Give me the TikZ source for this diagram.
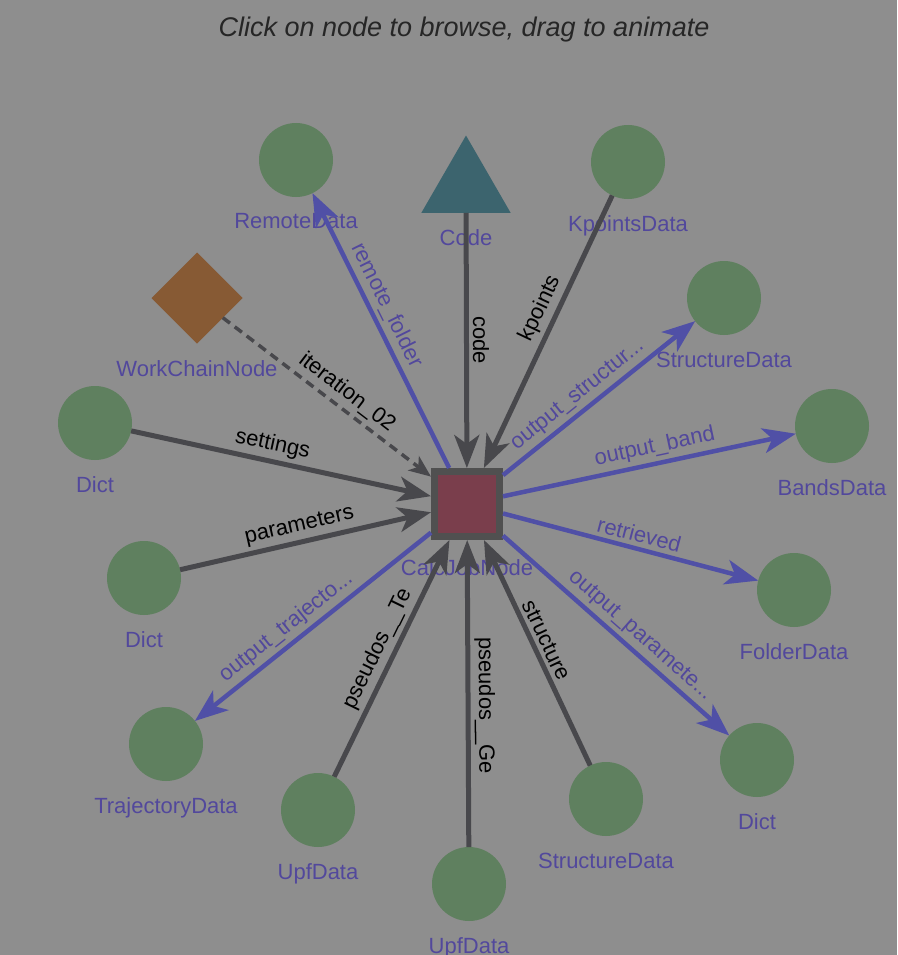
\documentclass[tikz,border=0pt]{standalone}
\usepackage{fontspec}
\setmainfont{Liberation Sans}
\usetikzlibrary{arrows.meta,shapes.geometric}

\definecolor{canvas}{HTML}{8E8E8E}
\definecolor{datagreen}{HTML}{5F805F}
\definecolor{calcred}{HTML}{7A3E4C}
\definecolor{calcrim}{HTML}{505050}
\definecolor{codeteal}{HTML}{3C646E}
\definecolor{wfbrown}{HTML}{875A34}
\definecolor{namecol}{HTML}{52489C}
\definecolor{linkgray}{HTML}{48484C}
\definecolor{linkblue}{HTML}{5050A6}

\begin{document}
\begin{tikzpicture}[x=1pt, y=-1pt,
    font=\fontsize{22}{26}\selectfont,
    >={Stealth[length=33pt,width=25pt,inset=9pt]},
    label distance=14.5pt,
    nlabel/.style={text=namecol, inner sep=2pt},
    datanode/.style={circle, fill=datagreen, minimum size=74pt, inner sep=0pt,
      outer sep=0pt, label={[nlabel]below:#1}},
    inlink/.style={draw=linkgray, line width=5pt, ->},
    outlink/.style={draw=linkblue, line width=4.5pt, ->},
    inlabel/.style={sloped, above, inner sep=4pt, text=black},
    outlabel/.style={sloped, above, inner sep=4pt, text=namecol}]

  \fill[canvas] (0,0) rectangle (897,955);
  \useasboundingbox (0,0) rectangle (897,955);

  \node[anchor=base, font=\itshape\fontsize{27}{30}\selectfont, text=black!85] (title)
    at (464,37) {Click on node to browse, drag to animate};

  % the calculation in the middle and its neighbours
  \node[rectangle, minimum size=65pt, inner sep=0pt, line width=7pt, draw=calcrim,
    fill=calcred, label={[nlabel, yshift=-2.5pt]below:CalcJobNode}] (calc) at (467,504) {};
  \node[regular polygon, regular polygon sides=3, minimum size=103pt, inner sep=0pt,
    outer sep=0pt, fill=codeteal, label={[nlabel]below:Code}] (code) at (466,187) {};
  \node[diamond, minimum width=91pt, minimum height=91pt, inner sep=0pt, outer sep=0pt,
    fill=wfbrown, label={[nlabel]below:WorkChainNode}] (wchain) at (197,298) {};

  \node[datanode=RemoteData] (remote) at (296,160) {};
  \node[datanode=KpointsData] (kpoints) at (628,162) {};
  \node[datanode=StructureData] (structout) at (724,298) {};
  \node[datanode=BandsData] (bands) at (832,426) {};
  \node[datanode=FolderData] (folder) at (794,590) {};
  \node[datanode=Dict] (paramsout) at (757,760) {};
  \node[datanode=StructureData] (structin) at (606,799) {};
  \node[datanode=UpfData] (upfge) at (469,884) {};
  \node[datanode=UpfData] (upfte) at (318,810) {};
  \node[datanode=TrajectoryData] (traj) at (166,744) {};
  \node[datanode=Dict] (params) at (144,578) {};
  \node[datanode=Dict] (settings) at (95,423) {};

  % inputs
  \draw[inlink] (settings) -- node[inlabel, pos=.46] {settings} (calc);
  \draw[inlink] (params) -- node[inlabel, pos=.49] {parameters} (calc);
  \draw[inlink, line width=3.5pt, dash pattern=on 9pt off 6pt,
    -{Stealth[length=22pt,width=18pt,inset=6pt]}]
    (wchain) -- node[inlabel, pos=.55] {iteration\_02} (calc);
  \draw[inlink] (code) -- node[inlabel, pos=.5] {code} (calc);
  \draw[inlink] (kpoints) -- node[inlabel, pos=.44] {kpoints} (calc);
  \draw[inlink] (structin) -- node[inlabel, pos=.53] {structure} (calc);
  \draw[inlink] (upfge) -- node[inlabel, pos=.46] {pseudos\_\_Ge} (calc);
  \draw[inlink] (upfte) -- node[inlabel, pos=.51] {pseudos\_\_Te} (calc);

  % outputs
  \draw[outlink] (calc) -- node[outlabel, pos=.565] {remote\_folder} (remote);
  \draw[outlink] (calc) -- node[outlabel, pos=.44] {output\_structur...} (structout);
  \draw[outlink] (calc) -- node[outlabel, pos=.53] {output\_band} (bands);
  \draw[outlink] (calc) -- node[outlabel, pos=.52] {retrieved} (folder);
  \draw[outlink] (calc) -- node[outlabel, pos=.56] {output\_paramete...} (paramsout);
  \draw[outlink] (calc) -- node[outlabel, pos=.57] {output\_trajecto...} (traj);
\end{tikzpicture}
\end{document}
